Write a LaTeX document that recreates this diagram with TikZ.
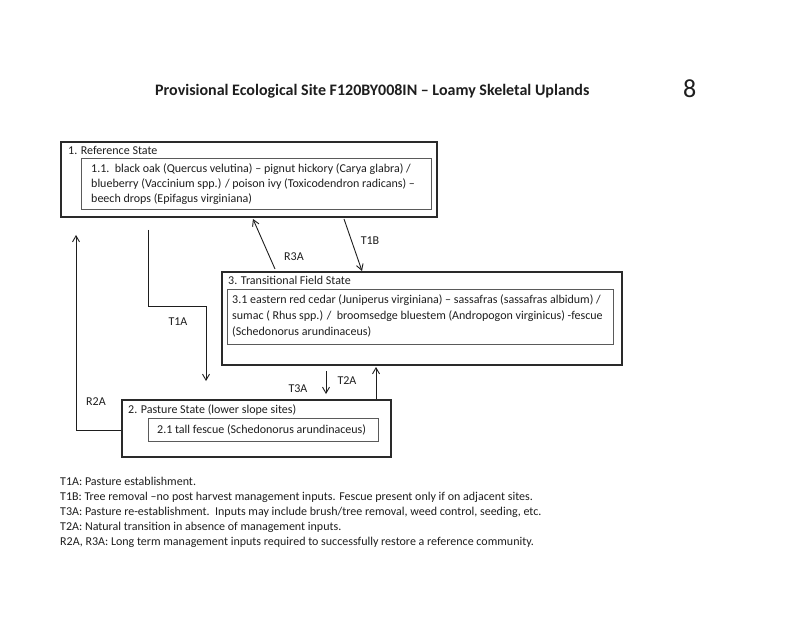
\documentclass[tikz,border=0pt]{standalone}
\usepackage{fontspec}
\setmainfont{Carlito}
\usetikzlibrary{arrows.meta}
\definecolor{ink}{HTML}{1E1E1E}
\definecolor{boxline}{HTML}{2A2A2A}
\definecolor{inline}{HTML}{5A5A5A}
\tikzset{
  txt/.style={anchor=base west, inner sep=0pt, text=ink, font=\fontsize{12}{15}\selectfont},
  lbl/.style={anchor=center, inner sep=0pt, text=ink, font=\fontsize{12}{15}\selectfont},
  outerbox/.style={draw=boxline, line width=1.6pt, anchor=north west, inner sep=0pt},
  innerbox/.style={draw=inline, line width=0.9pt, anchor=north west, inner sep=0pt},
  conn/.style={draw=ink, line width=0.9pt, -{Straight Barb[length=6pt,width=7pt,line width=0.9pt]}},
}
\begin{document}
\begin{tikzpicture}[x=1pt,y=-1pt]
\useasboundingbox (0,0) rectangle (800,617);
\fill[white] (0,0) rectangle (800,617);
% title
\node[anchor=base west, inner sep=0pt, text=ink, font=\fontsize{16}{19}\selectfont\bfseries] (title) at (155,96) {Provisional Ecological Site F120BY008IN – Loamy Skeletal Uplands};
\node[anchor=base west, inner sep=0pt, text=ink, font=\fontsize{26}{30}\selectfont] (pagenum) at (683,98) {8};
% boxes
\node[outerbox, minimum width=376pt, minimum height=75pt] (s1) at (60,141) {};
\node[innerbox, minimum width=350pt, minimum height=51pt] (s1i) at (81,158) {};
\node[outerbox, minimum width=400pt, minimum height=93pt] (s3) at (221,271) {};
\node[innerbox, minimum width=386pt, minimum height=55pt] (s3i) at (227,289) {};
\node[outerbox, minimum width=269pt, minimum height=57pt] (s2) at (121,399) {};
\node[innerbox, minimum width=230pt, minimum height=23pt] (s2i) at (148,418) {};
% box texts
\node[txt] (t1) at (68,155) {1. Reference State};
\node[txt] (t11a) at (91,173) {1.1.\ \ black oak (Quercus velutina) – pignut hickory (Carya glabra) /};
\node[txt] (t11b) at (91,188) {blueberry (Vaccinium spp.) / poison ivy (Toxicodendron radicans) –};
\node[txt] (t11c) at (91,203) {beech drops (Epifagus virginiana)};
\node[txt] (t3) at (228,285) {3. Transitional Field State};
\node[txt] (t31a) at (232,304) {3.1 eastern red cedar (Juniperus virginiana) – sassafras (sassafras albidum) /};
\node[txt] (t31b) at (232,320) {sumac ( Rhus spp.) /\ \ broomsedge bluestem (Andropogon virginicus) -fescue};
\node[txt] (t31c) at (232,336) {(Schedonorus arundinaceus)};
\node[txt] (t2) at (128,413) {2. Pasture State (lower slope sites)};
\node[txt] (t21) at (157,433) {2.1 tall fescue (Schedonorus arundinaceus)};
% connector end coordinates
\coordinate (a1s) at (148,230);
\coordinate (a1e) at (206,381);
\coordinate (r2e) at (76,235);
\coordinate (r3s) at (275,269);
\coordinate (r3e) at (253,219);
\coordinate (t1bs) at (344,219);
\coordinate (t1be) at (362,271);
\coordinate (t3s) at (326,371);
\coordinate (t3e) at (326,394);
\coordinate (t2s) at (376,399);
\coordinate (t2e) at (376,367);
% connectors
\draw[conn] (a1s) -- (148,306) -- (206,306) -- (a1e);
\draw[conn] (s2.west |- 0,430) -- (76,430) -- (r2e);
\draw[conn] (r3s) -- (r3e);
\draw[conn] (t1bs) -- (t1be);
\draw[conn] (t3s) -- (t3e);
\draw[conn] (t2s) -- (t2e);
% connector labels
\node[lbl] (lt1a) at (178,322) {T1A};
\node[lbl] (lr2a) at (96,402) {R2A};
\node[lbl] (lr3a) at (294,257) {R3A};
\node[lbl] (lt1b) at (370,241) {T1B};
\node[lbl] (lt3a) at (298,389) {T3A};
\node[lbl] (lt2a) at (347,381) {T2A};
% footnotes
\node[txt] (f1) at (60,485) {T1A: Pasture establishment.};
\node[txt] (f2) at (60,500) {T1B: Tree removal –no post harvest management inputs. Fescue present only if on adjacent sites.};
\node[txt] (f3) at (60,515) {T3A: Pasture re-establishment.\ \ Inputs may include brush/tree removal, weed control, seeding, etc.};
\node[txt] (f4) at (60,530) {T2A: Natural transition in absence of management inputs.};
\node[txt] (f5) at (60,545) {R2A, R3A: Long term management inputs required to successfully restore a reference community.};
\end{tikzpicture}
\end{document}
